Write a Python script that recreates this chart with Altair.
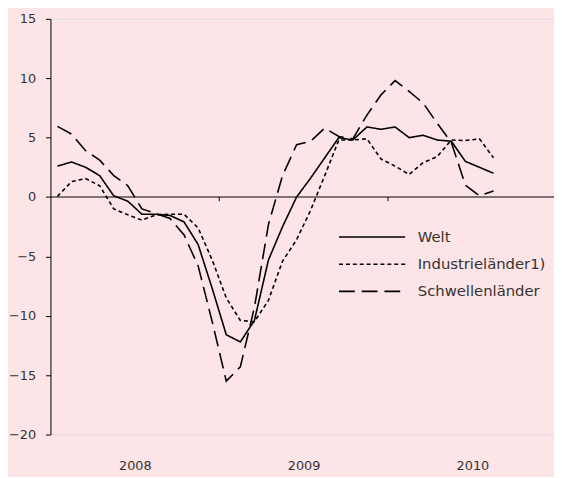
import altair as alt
import pandas as pd

# Monthly values, Jan 2008 .. Aug 2010 (index 0..31)
series_names = ["Welt", "Industrieländer1)", "Schwellenländer"]
welt = [2.6, 2.95, 2.5, 1.8, 0.1, -0.35, -1.45, -1.45, -1.55, -2.1, -4.0, -7.7,
        -11.6, -12.2, -10.4, -5.3, -2.5, 0.0, 1.6, 3.3, 5.0, 4.8, 5.9, 5.7,
        5.9, 5.0, 5.2, 4.8, 4.7, 3.0, 2.5, 2.0]
industrie = [0.05, 1.3, 1.55, 0.95, -1.0, -1.5, -1.95, -1.5, -1.45, -1.45, -2.6, -5.3,
             -8.5, -10.4, -10.5, -8.7, -5.4, -3.6, -1.1, 1.8, 4.8, 4.8, 4.9, 3.2,
             2.6, 1.9, 2.9, 3.4, 4.8, 4.75, 4.9, 3.3]
schwellen = [5.95, 5.3, 3.9, 3.1, 1.8, 0.95, -1.0, -1.4, -1.8, -3.2, -5.8, -10.5,
             -15.5, -14.3, -9.3, -2.3, 1.8, 4.4, 4.7, 5.8, 5.1, 4.9, 6.9, 8.6,
             9.8, 8.9, 7.9, 6.2, 4.6, 1.0, 0.1, 0.5]
years = ["2008", "2009", "2010"]
year_boundaries = [12, 24]
y_ticks = [-20, -15, -10, -5, 0, 5, 10, 15]

rows = []
for name, vals in zip(series_names, [welt, industrie, schwellen]):
    for i, v in enumerate(vals):
        rows.append({"month": i + 0.5, "value": v, "series": name})
df = pd.DataFrame(rows)

year_centers = [6 + 12 * k for k in range(len(years))]
label_expr = " : ".join(f"datum.value == {c} ? '{y}'" for c, y in zip(year_centers, years)) + " : ''"

x_scale = alt.Scale(domain=[0, 35.8], nice=False, zero=False)
y_scale = alt.Scale(domain=[-20, 15], nice=False, zero=False)
TXT = "#333333"

lines = alt.Chart(df).mark_line(color="black", strokeWidth=1.6).encode(
    x=alt.X("month:Q", scale=x_scale,
            axis=alt.Axis(values=year_centers, labelExpr=label_expr, domain=False,
                          ticks=False, grid=False, labelPadding=25, labelFontSize=13,
                          labelColor=TXT, title=None)),
    y=alt.Y("value:Q", scale=y_scale,
            axis=alt.Axis(values=y_ticks, grid=False, tickSize=5, labelPadding=10,
                          domainColor="black", tickColor="black", title=None,
                          labelFontSize=13, labelColor=TXT)),
    strokeDash=alt.StrokeDash(
        "series:N",
        scale=alt.Scale(domain=series_names, range=[[1, 0], [4, 3], [16, 7]]),
        legend=alt.Legend(orient="none", legendX=291, legendY=203, title=None,
                          symbolType="M-1,0L3,0", symbolSize=1122, symbolStrokeWidth=1.6,
                          symbolStrokeColor="black", labelFontSize=15, labelColor=TXT,
                          labelOffset=45, rowPadding=1.5),
    ),
)

zero_line = alt.Chart(pd.DataFrame({"y": [0]})).mark_rule(color="black", strokeWidth=1).encode(
    y=alt.Y("y:Q", scale=y_scale)
)

ticks = alt.Chart(pd.DataFrame({"x": year_boundaries})).mark_rule(color="black", strokeWidth=1).encode(
    x=alt.X("x:Q", scale=x_scale),
    y=alt.datum(0),
    y2=alt.datum(-0.35),
)

chart = alt.layer(zero_line, ticks, lines).properties(
    width=510, height=421,
    autosize=alt.AutoSizeParams(type="none"),
    padding={"left": 43, "top": 8, "right": 0, "bottom": 40},
    background="#FDE4E6",
).configure_view(stroke=None).configure(font="DejaVu Sans")

chart.save("out.html", embed_options={"renderer": "svg", "actions": False})
